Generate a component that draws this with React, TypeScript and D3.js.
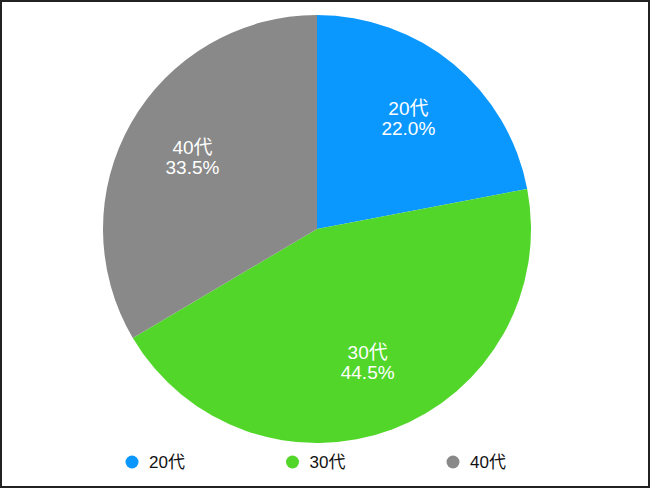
import React from "react";
import * as d3 from "d3";

const categories = ["20代", "30代", "40代"];
const values = [22.0, 44.5, 33.5];
const colors = ["#0a98ff", "#52d62a", "#898989"];

const W = 650;
const H = 488;
const cx = 317;
const cy = 229;
const R = 214;
const FONT = "'Liberation Sans', 'Noto Sans CJK JP', sans-serif";

export default function App() {
  const pie = d3.pie<number>().sort(null).value((d) => d)(values);
  const arc = d3.arc<d3.PieArcDatum<number>>().innerRadius(0).outerRadius(R);
  const labelArc = d3.arc<d3.PieArcDatum<number>>().innerRadius(R * 0.67).outerRadius(R * 0.67);
  const legendX = d3.scalePoint<string>().domain(categories).range([132, 453]);

  return (
    <svg
      width={W}
      height={H}
      style={{ position: "absolute", left: 0, top: 0, display: "block" }}
    >
      <rect x={0} y={0} width={W} height={H} fill="#fff" />
      <g transform={`translate(${cx},${cy})`}>
        {pie.map((d, i) => (
          <path key={i} d={arc(d) || ""} fill={colors[i]} />
        ))}
        {pie.map((d, i) => {
          const [x, y] = labelArc.centroid(d);
          return (
            <g key={i}>
              <text
                x={x}
                y={y - 4}
                fill="#fff"
                fontFamily={FONT}
                fontSize={19}
                textAnchor="middle"
              >
                {categories[i]}
              </text>
              <text
                x={x}
                y={y + 16}
                fill="#fff"
                fontFamily={FONT}
                fontSize={19}
                textAnchor="middle"
              >
                {values[i].toFixed(1) + "%"}
              </text>
            </g>
          );
        })}
      </g>
      {categories.map((c, i) => (
        <g key={c} transform={`translate(${legendX(c)},462)`}>
          <circle cx={0} cy={0} r={6.5} fill={colors[i]} />
          <text x={17} y={6} fontFamily={FONT} fontSize={17} fill="#111">
            {c}
          </text>
        </g>
      ))}
      <rect
        x={1}
        y={1}
        width={W - 2}
        height={H - 2}
        fill="none"
        stroke="#222"
        strokeWidth={2}
      />
    </svg>
  );
}
